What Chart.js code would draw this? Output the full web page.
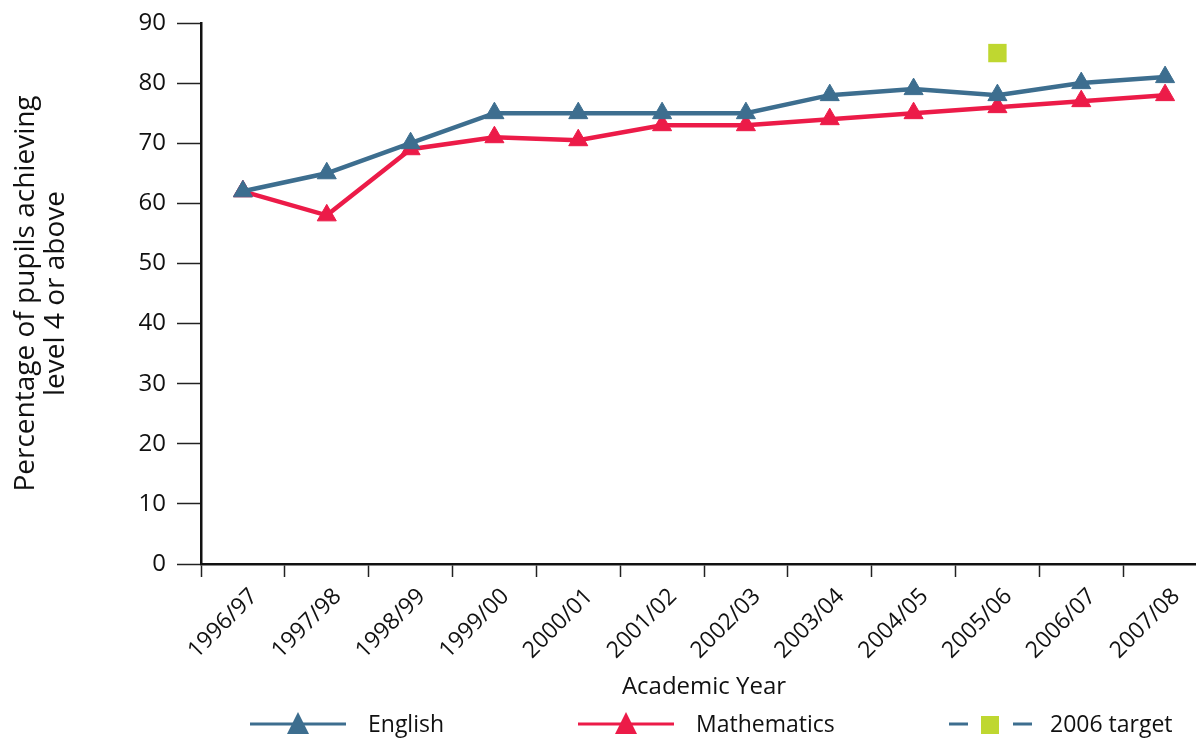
<!DOCTYPE html>
<html>
<head>
<meta charset="utf-8">
<script src="https://cdn.jsdelivr.net/npm/chart.js@4.4.1/dist/chart.umd.min.js"></script>
<style>
  html, body { margin: 0; padding: 0; background: #fff; overflow: hidden; }
  canvas { display: block; }
</style>
</head>
<body>
<canvas id="chart" width="1220" height="740"></canvas>
<script>
const years = ["1996/97", "1997/98", "1998/99", "1999/00", "2000/01", "2001/02",
  "2002/03", "2003/04", "2004/05", "2005/06", "2006/07", "2007/08"];
const english = [62, 65, 70, 75, 75, 75, 75, 78, 79, 78, 80, 81];
const maths = [62, 58, 69, 71, 70.5, 73, 73, 74, 75, 76, 77, 78];
const target2006 = [null, null, null, null, null, null, null, null, null, 85, null, null];
const yTicks = [0, 10, 20, 30, 40, 50, 60, 70, 80, 90];

const BLUE = "#3d6e8f";
const RED = "#ec1b48";
const GREEN = "#bfd730";
const FONT = "'Open Sans', sans-serif";

Chart.defaults.font.family = FONT;
Chart.defaults.color = "#111";

// legend drawn under the axis title: line + marker + label
const legendPlugin = {
  id: "bottomLegend",
  afterDraw(chart) {
    const ctx = chart.ctx;
    const y = 724;
    ctx.save();
    ctx.font = "23px " + FONT;
    ctx.textBaseline = "middle";
    ctx.fillStyle = "#111";

    function lineItem(x0, color, label) {
      ctx.strokeStyle = color;
      ctx.lineWidth = 3;
      ctx.beginPath();
      ctx.moveTo(x0, y);
      ctx.lineTo(x0 + 96, y);
      ctx.stroke();
      ctx.fillStyle = color;
      ctx.beginPath();
      ctx.moveTo(x0 + 48, y - 12);
      ctx.lineTo(x0 + 59, y + 10);
      ctx.lineTo(x0 + 37, y + 10);
      ctx.closePath();
      ctx.fill();
      ctx.fillStyle = "#111";
      ctx.fillText(label, x0 + 118, y + 1);
    }

    lineItem(250, BLUE, chart.data.datasets[0].label);
    lineItem(578, RED, chart.data.datasets[1].label);

    // target: dashed blue with green square
    ctx.strokeStyle = BLUE;
    ctx.lineWidth = 3;
    ctx.beginPath();
    ctx.moveTo(949, y);
    ctx.lineTo(968, y);
    ctx.moveTo(1013, y);
    ctx.lineTo(1032, y);
    ctx.stroke();
    ctx.fillStyle = GREEN;
    ctx.fillRect(981, y - 8, 18, 18);
    ctx.fillStyle = "#111";
    ctx.fillText(chart.data.datasets[2].label, 1050, y + 1);
    ctx.restore();
  }
};

new Chart(document.getElementById("chart"), {
  type: "line",
  data: {
    labels: years,
    datasets: [
      {
        label: "English",
        data: english,
        borderColor: BLUE,
        backgroundColor: BLUE,
        borderWidth: 4.5,
        pointStyle: "triangle",
        pointRadius: 11,
        pointBorderWidth: 1,
        tension: 0,
      },
      {
        label: "Mathematics",
        data: maths,
        borderColor: RED,
        backgroundColor: RED,
        borderWidth: 4.5,
        pointStyle: "triangle",
        pointRadius: 11,
        pointBorderWidth: 1,
        tension: 0,
      },
      {
        label: "2006 target",
        data: target2006,
        showLine: false,
        borderColor: GREEN,
        backgroundColor: GREEN,
        pointStyle: "rect",
        pointRadius: 13,
        pointBorderWidth: 0,
      },
    ],
  },
  options: {
    responsive: false,
    animation: false,
    devicePixelRatio: 1,
    layout: { padding: { top: 23, left: 0, right: 0, bottom: 0 } },
    plugins: {
      legend: { display: false },
      tooltip: { enabled: false },
    },
    scales: {
      x: {
        offset: true,
        grid: {
          offset: true,
          drawOnChartArea: false,
          drawTicks: true,
          tickLength: 13,
          tickWidth: 1.5,
          tickColor: "#222",
        },
        border: { display: true, color: "#111", width: 2.5 },
        ticks: {
          minRotation: 45,
          maxRotation: 45,
          padding: 6,
          labelOffset: 11,
          font: { size: 23 },
          color: "#111",
        },
        title: {
          display: true,
          text: "Academic Year",
          font: { size: 24 },
          color: "#111",
          padding: { top: 0, bottom: 38 },
        },
        afterFit(scale) {
          scale.height = 176;
        },
      },
      y: {
        min: 0,
        max: 90,
        afterBuildTicks(scale) {
          scale.ticks = yTicks.map(v => ({ value: v }));
        },
        grid: {
          drawOnChartArea: false,
          drawTicks: true,
          tickLength: 24,
          tickWidth: 1.5,
          tickColor: "#222",
        },
        border: { display: true, color: "#111", width: 2.5 },
        ticks: {
          padding: 11,
          font: { size: 24 },
          color: "#111",
        },
        title: {
          display: true,
          text: ["Percentage of pupils achieving", "level 4 or above"],
          font: { size: 28, lineHeight: 1.07 },
          color: "#111",
          padding: { top: 11, bottom: 0 },
        },
        afterFit(scale) {
          scale.width = 201;
          // let layout.padding.top decide where 90 sits
          scale.paddingTop = 0;
          scale.paddingBottom = 0;
        },
      },
    },
  },
  plugins: [legendPlugin],
});
</script>
</body>
</html>
